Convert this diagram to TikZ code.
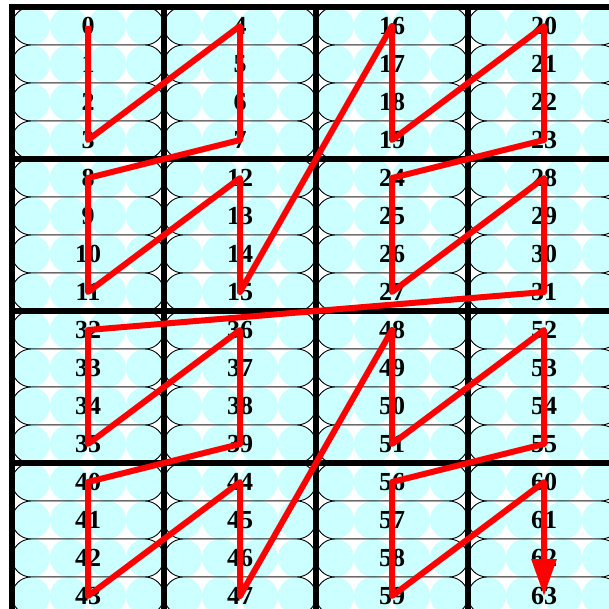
\documentclass[tikz,border=0pt]{standalone}
\usepackage{fontspec}
\setmainfont{Liberation Serif}
\usetikzlibrary{arrows.meta}
\definecolor{cellcyan}{HTML}{CCFFFF}
\definecolor{zred}{HTML}{FF0000}
\tikzset{
  pillfill/.style={fill=white, rounded corners=19pt},
  pilledge/.style={draw=black, line width=0.9pt, rounded corners=19pt},
  dot/.style={fill=cellcyan},
  gridline/.style={draw=black, line width=5.5pt},
  num/.style={inner sep=0pt, font=\fontsize{26}{26}\selectfont\bfseries},
  zpath/.style={draw=zred, line width=6pt, line join=round,
     -{Triangle[length=37pt,width=24pt]}}
}
\begin{document}
\begin{tikzpicture}[x=1pt,y=-1pt]
\useasboundingbox (0,0) rectangle (609,609);
\fill[white] (0,0) rectangle (609,609);
\clip (0,0) rectangle (609,609);
% pills and circles
\foreach \bx in {0,...,3}{
  \foreach \by in {0,...,3}{
    \foreach \r in {0,...,3}{
      \pgfmathsetmacro{\L}{12+152*\bx}
      \pgfmathsetmacro{\T}{7+152*\by+38*\r}
      \fill[pillfill] (\L,\T) rectangle ({\L+152},{\T+38});
      \foreach \c in {0,...,3}{
        \fill[dot] ({\L+19+38*\c},{\T+19}) circle (19pt);
      }
      \draw[pilledge] (\L,\T) rectangle ({\L+152},{\T+38});
    }
  }
}
% grid
\foreach \k in {0,...,4}{
  \draw[gridline] ({12+152*\k},4.25) -- ({12+152*\k},620);
  \draw[gridline] (9.25,{7+152*\k}) -- (620,{7+152*\k});
}
% numbers
\foreach \bx in {0,...,3}{
  \foreach \by in {0,...,3}{
    \foreach \r in {0,...,3}{
      \pgfmathtruncatemacro{\k}{4*(mod(\bx,2)+2*mod(\by,2)+4*int(\bx/2)+8*int(\by/2))+\r}
      \node[num] (n\k) at ({12+152*\bx+76},{7+152*\by+38*\r+19}) {\k};
    }
  }
}
% Z-order path
\draw[zpath] (n0.center) -- (n3.center) -- (n4.center) -- (n7.center)
  -- (n8.center) -- (n11.center) -- (n12.center) -- (n15.center)
  -- (n16.center) -- (n19.center) -- (n20.center) -- (n23.center)
  -- (n24.center) -- (n27.center) -- (n28.center) -- (n31.center)
  -- (n32.center) -- (n35.center) -- (n36.center) -- (n39.center)
  -- (n40.center) -- (n43.center) -- (n44.center) -- (n47.center)
  -- (n48.center) -- (n51.center) -- (n52.center) -- (n55.center)
  -- (n56.center) -- (n59.center) -- (n60.center) -- (n63.center);
\end{tikzpicture}
\end{document}
